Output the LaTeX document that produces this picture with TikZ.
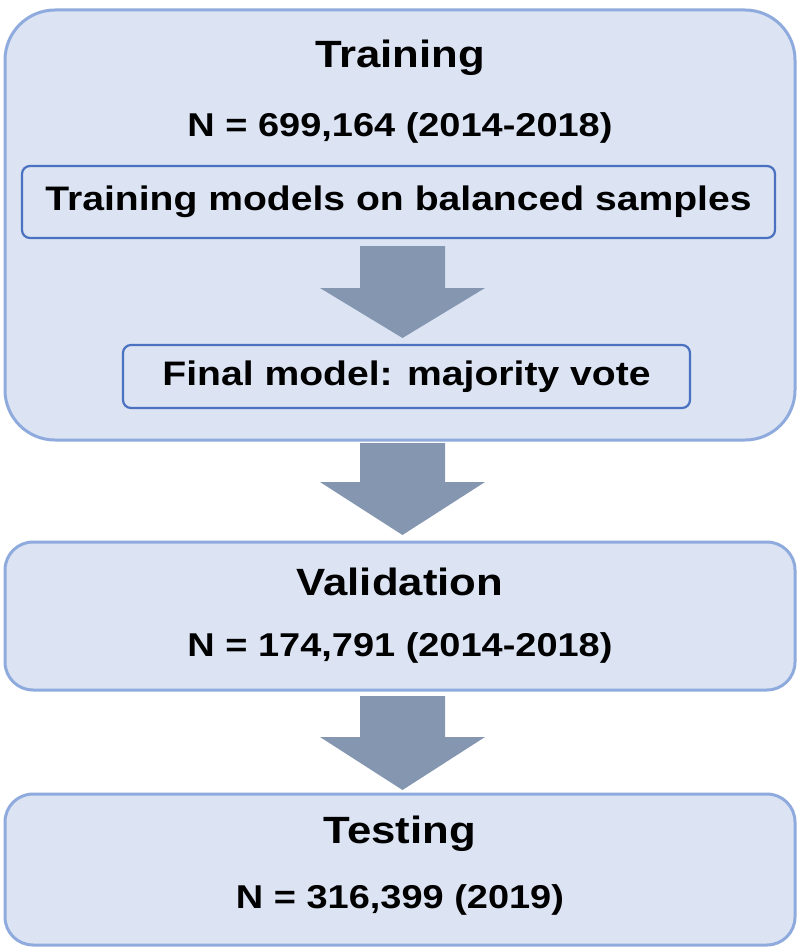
\documentclass[tikz,border=0pt]{standalone}
\usepackage{fontspec}
\setmainfont{Liberation Sans}[FakeStretch=1.15]
\definecolor{boxfill}{HTML}{DCE4F4}
\definecolor{boxline}{HTML}{8FAADC}
\definecolor{innerline}{HTML}{4A72C0}
\definecolor{arrowc}{HTML}{8496B0}
\begin{document}
\begin{tikzpicture}[x=1pt,y=-1pt,
  outer/.style={draw=boxline,line width=3pt,fill=boxfill,rounded corners=28pt},
  innerbox/.style={draw=innerline,line width=2.2pt,fill=boxfill,rounded corners=8pt,font=\bfseries\fontsize{34}{40}\selectfont},
  title/.style={font=\bfseries\fontsize{38}{44}\selectfont},
  sub/.style={font=\bfseries\fontsize{33}{38}\selectfont},
  bigarrow/.style={fill=arrowc}]
\useasboundingbox (0,0) rectangle (800,950);
\draw[outer,rounded corners=50pt] (5,10) rectangle (795,440);
\node[title] (t1) at (400,58) {Training};
\node[sub] (n1) at (400,128) {N = 699,164 (2014-2018)};
\node[innerbox,minimum width=753pt,minimum height=72pt] (i1) at (398.5,202) {Training models on balanced samples};
\node[innerbox,minimum width=567pt,minimum height=63pt] (i2) at (406.5,376.5) {Final model: majority vote};
\fill[bigarrow] (360,246) -- (445,246) -- (445,288) -- (485,288) -- (402.5,338) -- (320,288) -- (360,288) -- cycle;
\fill[bigarrow] (360,443) -- (445,443) -- (445,482) -- (485,482) -- (402.5,535) -- (320,482) -- (360,482) -- cycle;
\draw[outer] (5,542) rectangle (795,690);
\node[title] (t2) at (400,582) {Validation};
\node[sub] (n2) at (400,648) {N = 174,791 (2014-2018)};
\fill[bigarrow] (360,696) -- (445,696) -- (445,737) -- (485,737) -- (402.5,790) -- (320,737) -- (360,737) -- cycle;
\draw[outer] (5,794) rectangle (795,945);
\node[title] (t3) at (400,834) {Testing};
\node[sub] (n3) at (400,900) {N = 316,399 (2019)};
\end{tikzpicture}
\end{document}
